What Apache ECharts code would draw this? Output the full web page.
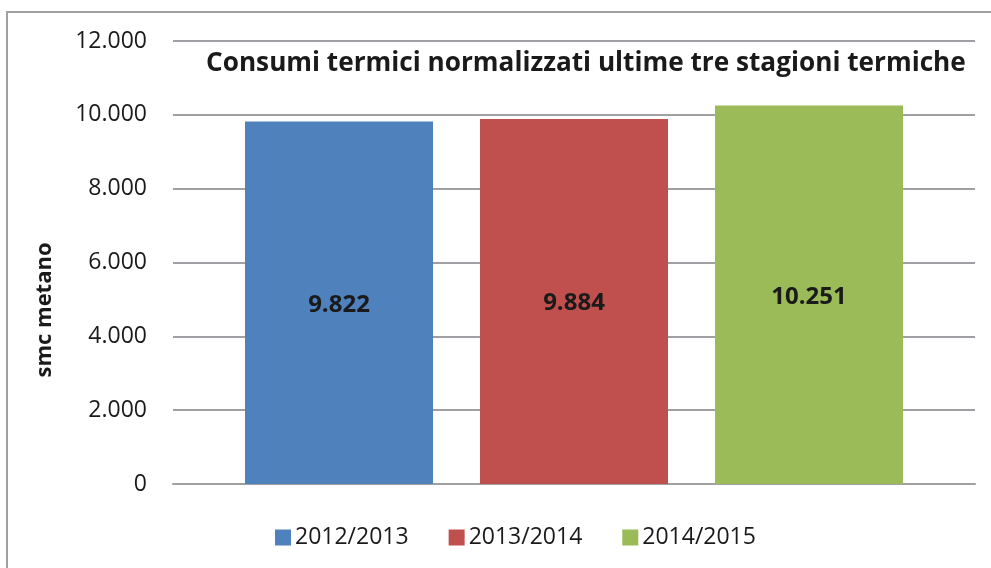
<!DOCTYPE html>
<html><head><meta charset="utf-8">
<script src="https://cdn.jsdelivr.net/npm/echarts@6/dist/echarts.min.js"></script>
<style>html,body{margin:0;padding:0;background:#fff}#c{width:991px;height:568px}</style>
</head><body><div id="c"></div>
<script>
var seasons = ['2012/2013', '2013/2014', '2014/2015'];
var values = [9822, 9884, 10251];
var colors = ['#4f81bd', '#c0504d', '#9bbb59'];
var yTicks = [0, 2000, 4000, 6000, 8000, 10000, 12000];

function fmt(v) { return String(v).replace(/\B(?=(\d{3})+(?!\d))/g, '.'); }

var chart = echarts.init(document.getElementById('c'));
var series = seasons.map(function (s, i) {
  return {
    name: s, type: 'bar', data: [values[i]], barWidth: 188, barGap: '25%',
    itemStyle: { color: colors[i] },
    label: { show: true, position: 'inside', offset: [0, 2], formatter: function (p) { return fmt(p.value); },
      fontFamily: 'Open Sans', fontWeight: 'bold', fontSize: 24, color: '#1a1a1a' }
  };
});
chart.setOption({
  animation: false,
  title: { text: 'Consumi termici normalizzati ultime tre stagioni termiche', left: 206, top: 51, padding: 0,
    textStyle: { fontFamily: 'Open Sans', fontWeight: 'bold', fontSize: 26.2, color: '#1a1a1a' } },
  legend: { data: seasons, top: 526, left: 275, itemWidth: 16, itemHeight: 16, itemGap: 40, padding: 0,
    icon: 'rect', textStyle: { fontFamily: 'Open Sans', fontSize: 23, color: '#1a1a1a', padding: [0, 0, 0, -1] } },
  grid: { left: 173, right: 16, top: 41, bottom: 84, containLabel: false },
  xAxis: { type: 'category', data: [''], axisTick: { show: false }, axisLabel: { show: false },
    axisLine: { lineStyle: { color: '#a0a0a4', width: 2 } } },
  yAxis: { type: 'value', min: 0, max: 12000, interval: 2000,
    axisLabel: { formatter: function (v) { return fmt(v); }, fontFamily: 'Open Sans', fontSize: 23,
      color: '#1a1a1a', margin: 26 },
    splitLine: { lineStyle: { color: '#a0a0a4', width: 2 } },
    axisLine: { show: false }, axisTick: { show: false } },
  graphic: [
    { type: 'rect', shape: { x: 7, y: 12, width: 1000, height: 600 }, style: { fill: null, stroke: '#a0a0a4', lineWidth: 2 }, z: -1 },
    { type: 'text', x: 45, y: 310, rotation: Math.PI / 2,
      style: { text: 'smc metano', fontFamily: 'Open Sans', fontWeight: 'bold', fontSize: 22, fill: '#1a1a1a', align: 'center', verticalAlign: 'middle' } }
  ],
  series: series
});
</script></body></html>
